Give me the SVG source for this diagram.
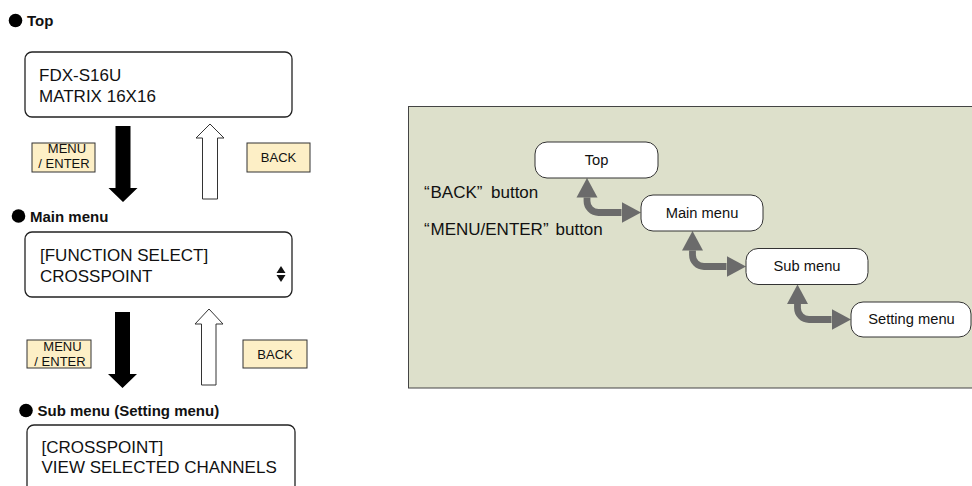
<svg xmlns="http://www.w3.org/2000/svg" width="972" height="486" viewBox="0 0 972 486">
  <style>
    .t { font-family: "Liberation Sans", Arial, sans-serif; fill: #111; }
    .head { font-size: 15px; font-weight: bold; }
    .lcd { font-size: 17px; }
    .btn { font-size: 13px; text-anchor: middle; }
    .lbl { font-size: 17px; }
    .nd { font-size: 14.7px; text-anchor: middle; }
    .lcdbox { fill: #fff; stroke: #222; stroke-width: 1.3; }
    .ybox { fill: #FDEFC6; stroke: #333; stroke-width: 1; }
    .dn { fill: #000; }
    .up { fill: #fff; stroke: #333; stroke-width: 1; }
    .node { fill: #fff; stroke: #333; stroke-width: 1; }
    .conn { fill: none; stroke: #6b6b6b; stroke-width: 6.8; marker-start: url(#ah); marker-end: url(#ah); }
  </style>
  <defs>
    <marker id="ah" markerUnits="userSpaceOnUse" markerWidth="22" markerHeight="22" viewBox="0 -11 22 22" refX="0" refY="0" orient="auto-start-reverse">
      <path d="M0,-10.5 L19.5,0 L0,10.5 Z" fill="#6b6b6b"/>
    </marker>
  </defs>
  <rect width="972" height="486" fill="#fff"/>

  <!-- Left column -->
  <g id="heading-top">
    <circle cx="15.5" cy="20.5" r="6.8" fill="#000"/>
    <text class="t head" x="27" y="26">Top</text>
  </g>
  <g id="lcd-top">
    <rect class="lcdbox" x="25" y="52" width="267" height="65" rx="7"/>
    <text class="t lcd" x="39" y="80.5">FDX-S16U</text>
    <text class="t lcd" x="39" y="101.5">MATRIX 16X16</text>
  </g>
  <g id="btn-menu-1">
    <rect class="ybox" x="32" y="143" width="63" height="29"/>
    <text class="t btn" x="67" y="152.5">MENU</text>
    <text class="t btn" x="64" y="168">/ ENTER</text>
  </g>
  <g id="btn-back-1">
    <rect class="ybox" x="247" y="143" width="63" height="29"/>
    <text class="t btn" x="278.5" y="161.5">BACK</text>
  </g>
  <g id="heading-main">
    <circle cx="18.5" cy="216" r="6.8" fill="#000"/>
    <text class="t head" x="30" y="221.5">Main menu</text>
  </g>
  <g id="lcd-main">
    <rect class="lcdbox" x="25" y="232" width="267" height="65" rx="7"/>
    <text class="t lcd" x="40" y="261">[FUNCTION SELECT]</text>
    <text class="t lcd" x="40" y="281.5">CROSSPOINT</text>
    <polygon points="281,266 285.5,273 276.5,273" fill="#111"/>
    <polygon points="276.5,275 285.5,275 281,282" fill="#111"/>
  </g>
  <g id="btn-menu-2">
    <rect class="ybox" x="27" y="340" width="64" height="28"/>
    <text class="t btn" x="62.5" y="350.5">MENU</text>
    <text class="t btn" x="60" y="366">/ ENTER</text>
  </g>
  <g id="btn-back-2">
    <rect class="ybox" x="243" y="340" width="64" height="28"/>
    <text class="t btn" x="275" y="358.5">BACK</text>
  </g>
  <g id="heading-sub">
    <circle cx="26" cy="410.5" r="6.8" fill="#000"/>
    <text class="t head" x="37.5" y="416">Sub menu (Setting menu)</text>
  </g>
  <g id="lcd-sub">
    <rect class="lcdbox" x="27" y="425" width="268" height="75" rx="7"/>
    <text class="t lcd" x="41.5" y="452.5">[CROSSPOINT]</text>
    <text class="t lcd" x="41.5" y="472.5">VIEW SELECTED CHANNELS</text>
  </g>

  <!-- Left column arrows -->
  <g id="left-arrows">
    <polygon class="dn" points="115.5,126 130.5,126 130.5,188 137.5,188 123,202 108.5,188 115.5,188"/>
    <polygon class="up" points="210,124 224,138 217.5,138 217.5,199 202.5,199 202.5,138 196,138"/>
    <polygon class="dn" points="115,312 130,312 130,374 137,374 122.5,388 108,374 115,374"/>
    <polygon class="up" points="209,309 223,324 216,324 216,385 201.5,385 201.5,324 195,324"/>
  </g>

  <!-- Right panel -->
  <rect id="panel" x="408.5" y="106.5" width="570" height="281.5" fill="#DDE0CB" stroke="#444" stroke-width="1"/>

  <g id="label-back">
    <text class="t lbl" x="424" y="197.5">“<tspan x="430.5">BACK</tspan>”<tspan x="491">button</tspan></text>
  </g>
  <g id="label-menu">
    <text class="t lbl" x="424" y="235">“<tspan x="430.5">MENU/ENTER</tspan>”<tspan x="555.5">button</tspan></text>
  </g>

  <g id="connectors">
    <path class="conn" d="M587,197.5 V201 A11.5,11.5 0 0 0 598.5,212.5 H621.5"/>
    <path class="conn" d="M692.5,250.5 V255 A11.5,11.5 0 0 0 704,266.5 H726.5"/>
    <path class="conn" d="M797.5,304 V308 A11.5,11.5 0 0 0 809,319.5 H831.5"/>
  </g>

  <g id="node-top">
    <rect class="node" x="535" y="142" width="123" height="36" rx="12"/>
    <text class="t nd" x="596.5" y="164.5">Top</text>
  </g>
  <g id="node-main">
    <rect class="node" x="641" y="195" width="122" height="36" rx="12"/>
    <text class="t nd" x="702" y="217.5">Main menu</text>
  </g>
  <g id="node-sub">
    <rect class="node" x="746" y="248.5" width="122" height="36" rx="12"/>
    <text class="t nd" x="807" y="271">Sub menu</text>
  </g>
  <g id="node-setting">
    <rect class="node" x="851" y="302" width="120" height="35" rx="12"/>
    <text class="t nd" x="911.5" y="324">Setting menu</text>
  </g>
</svg>
